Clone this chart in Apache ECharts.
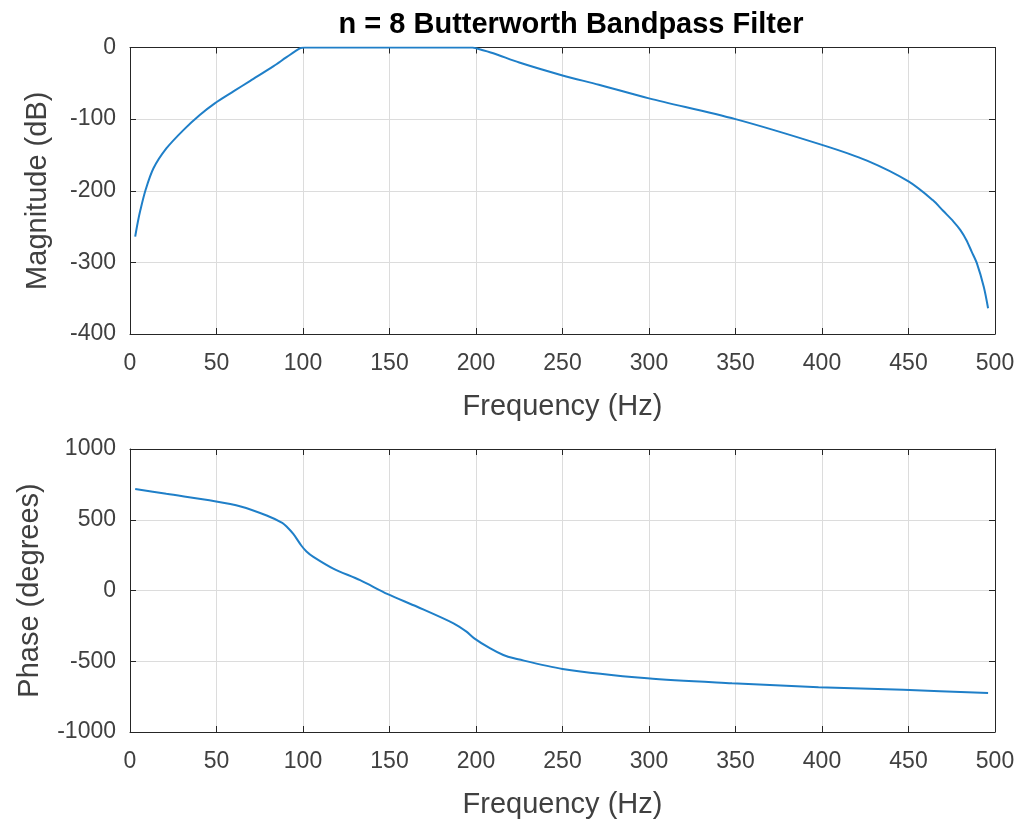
<!DOCTYPE html>
<html>
<head>
<meta charset="utf-8">
<script src="https://cdn.jsdelivr.net/npm/echarts@6/dist/echarts.min.js"></script>
<style>
html,body{margin:0;padding:0;background:#fff;}
#chart{width:1021px;height:820px;}
</style>
</head>
<body>
<div id="chart"></div>
<script>
var titleText = 'n = 8 Butterworth Bandpass Filter';
var xName = 'Frequency (Hz)';
var magName = 'Magnitude (dB)';
var phaseName = 'Phase (degrees)';

var magFreq = [3, 4.5, 6, 9, 13.5, 21, 31, 40.5, 49, 60, 69.5, 83, 90.5, 98.5, 101, 150, 198, 200, 210, 225, 250, 271, 300, 350, 400, 426, 450, 464, 470, 476, 480, 483.5, 486.5, 489.5, 493.5, 496];
var magDb   = [-264, -244, -227, -199, -169, -141, -115, -94, -78, -61, -46.5, -26, -13.5, -1, 0, 0, 0, -1, -8, -21, -39, -52, -71, -100, -136, -158, -187, -213, -228, -243, -255, -269, -285, -301, -334, -364];

var phFreq = [3, 21, 49, 64, 79, 88, 90.5, 94.5, 99, 102, 106, 117.5, 133, 149, 166, 187, 194.5, 199, 208, 215.8, 222, 250, 299, 348, 398, 447, 496];
var phDeg  = [718, 683, 631, 594, 530, 478, 452, 398, 318, 276, 238, 155, 73, -26, -115, -232, -291, -338, -408, -456, -479, -554, -620, -655, -683, -702, -725];

var xTicks = {min: 0, max: 500, interval: 50};
var magTicks = {min: -400, max: 0, interval: 100};
var phTicks = {min: -1000, max: 1000, interval: 500};

function pairs(xs, ys){ return xs.map(function(x,i){ return [x, ys[i]]; }); }

var FONT = 'Liberation Sans, Arial, Helvetica, sans-serif';
var axisCol = '#262626';
var gridCol = '#dcdcdc';
var labelStyle = {color: '#404040', fontSize: 23, fontFamily: FONT, formatter: function(v){ return String(v); }};
var nameStyle = {color: '#404040', fontSize: 29, fontFamily: FONT};

function mainX(gi){
  return {type:'value', gridIndex:gi, min:xTicks.min, max:xTicks.max, interval:xTicks.interval,
    position:'bottom', name:xName, nameLocation:'middle', nameGap:58, nameTextStyle:nameStyle,
    axisLine:{show:true, onZero:false, lineStyle:{color:axisCol, width:1}},
    axisTick:{show:true, inside:true, length:6, lineStyle:{color:axisCol}},
    axisLabel:Object.assign({margin:18}, labelStyle),
    splitLine:{show:true, lineStyle:{color:gridCol, width:1}}};
}
function topX(gi){
  return {type:'value', gridIndex:gi, min:xTicks.min, max:xTicks.max, interval:xTicks.interval,
    position:'top',
    axisLine:{show:true, onZero:false, lineStyle:{color:axisCol, width:1}},
    axisTick:{show:true, inside:true, length:6, lineStyle:{color:axisCol}},
    axisLabel:{show:false}, splitLine:{show:false}};
}
function mainY(gi, t, name, gap){
  return {type:'value', gridIndex:gi, min:t.min, max:t.max, interval:t.interval,
    position:'left', name:name, nameLocation:'middle', nameGap:gap, nameTextStyle:nameStyle,
    axisLine:{show:true, onZero:false, lineStyle:{color:axisCol, width:1}},
    axisTick:{show:true, inside:true, length:6, lineStyle:{color:axisCol}},
    axisLabel:Object.assign({margin:14}, labelStyle),
    splitLine:{show:true, lineStyle:{color:gridCol, width:1}}};
}
function rightY(gi, t){
  return {type:'value', gridIndex:gi, min:t.min, max:t.max, interval:t.interval,
    position:'right',
    axisLine:{show:true, onZero:false, lineStyle:{color:axisCol, width:1}},
    axisTick:{show:true, inside:true, length:6, lineStyle:{color:axisCol}},
    axisLabel:{show:false}, splitLine:{show:false}};
}

var chart = echarts.init(document.getElementById('chart'), null, {renderer:'canvas'});
chart.setOption({
  backgroundColor:'#ffffff',
  animation:false,
  title:{text:titleText, left:566, top:5, textAlign:'center',
    textStyle:{color:'#000', fontSize:29, fontWeight:'bold', fontFamily:FONT}},
  grid:[
    {left:130, right:26, top:47.5, height:286.5},
    {left:130, right:26, top:449, height:284}
  ],
  xAxis:[mainX(0), topX(0), mainX(1), topX(1)],
  yAxis:[mainY(0, magTicks, magName, 78), rightY(0, magTicks), mainY(1, phTicks, phaseName, 86), rightY(1, phTicks)],
  series:[
    {type:'line', xAxisIndex:0, yAxisIndex:0, data:pairs(magFreq, magDb), showSymbol:false, smooth:0.3,
      lineStyle:{color:'#1f7fc8', width:2}},
    {type:'line', xAxisIndex:2, yAxisIndex:2, data:pairs(phFreq, phDeg), showSymbol:false, smooth:0.3,
      lineStyle:{color:'#1f7fc8', width:2}}
  ]
});
</script>
</body>
</html>
